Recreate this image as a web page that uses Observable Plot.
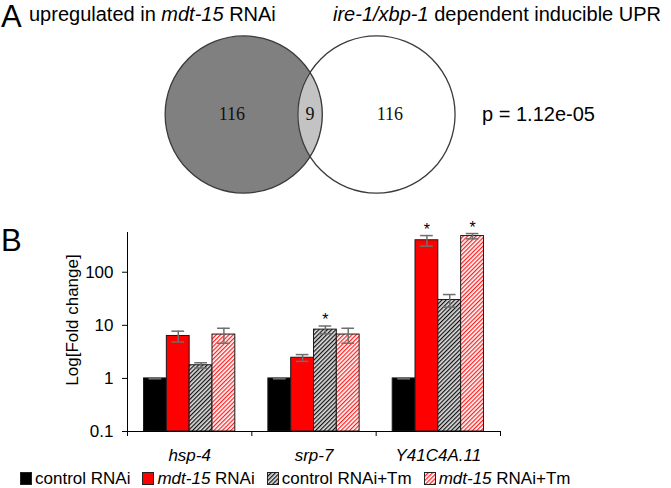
<!DOCTYPE html>
<html><head><meta charset="utf-8">
<script src="https://cdn.jsdelivr.net/npm/d3@7"></script>
<script src="https://cdn.jsdelivr.net/npm/@observablehq/plot@0.6"></script>
<style>
html,body{margin:0;padding:0;background:#fff;}
#fig{position:relative;width:671px;height:488px;font-family:"Liberation Sans",Arial,Helvetica,sans-serif;color:#000;overflow:hidden;}
.abs{position:absolute;white-space:nowrap;line-height:1;}
#legend{position:absolute;left:20px;top:470px;height:17px;display:flex;align-items:center;font-size:17px;line-height:17px;white-space:nowrap;}
#legend .item{display:flex;align-items:center;margin-right:12px;}
#legend svg{margin-right:3px;}
</style></head><body>
<svg width="0" height="0" style="position:absolute">
  <defs>
    <pattern id="hatchGray" patternUnits="userSpaceOnUse" width="3" height="3" patternTransform="rotate(45)">
      <rect width="3" height="3" fill="#dcdcdc"></rect>
      <line x1="0.6" y1="0" x2="0.6" y2="3" stroke="#111" stroke-width="1.2"></line>
    </pattern>
    <pattern id="hatchPink" patternUnits="userSpaceOnUse" width="3" height="3" patternTransform="rotate(45)">
      <rect width="3" height="3" fill="#ffffff"></rect>
      <line x1="0.6" y1="0" x2="0.6" y2="3" stroke="#ff1e1e" stroke-width="1.3"></line>
    </pattern>
  </defs>
</svg>
<div id="fig">
  <div id="venn" style="position:absolute;left:0;top:0;"></div>
  <div id="bars" style="position:absolute;left:0;top:215px;"></div>
  <div class="abs" style="left:1px;top:1px;font-size:31px;">A</div>
  <div class="abs" style="left:29px;top:4px;font-size:20px;">upregulated in <i>mdt-15</i> RNAi</div>
  <div class="abs" style="left:333px;top:4px;font-size:20px;"><i>ire-1/xbp-1</i> dependent inducible UPR</div>
  <div class="abs" style="left:1px;top:225px;font-size:31px;">B</div>
  <div id="legend"></div>
</div>
<script>
// ---------- data ----------
const vennCounts = [116, 9, 116];          // only A, A∩B, only B
const pValueText = "p = 1.12e-05";

const genes = ["hsp-4", "srp-7", "Y41C4A.11"];
const conditions = ["control RNAi", "mdt-15 RNAi", "control RNAi+Tm", "mdt-15 RNAi+Tm"];
const controlRNAi   = [1, 1, 1];
const mdt15RNAi     = [6.3, 2.45, 400];
const controlRNAiTm = [1.77, 8.3, 30];
const mdt15RNAiTm   = [6.7, 6.7, 480];
const errControlRNAi   = [0.02, 0.02, 0.02];
const errMdt15RNAi     = [1.45, 0.36, 90];
const errControlRNAiTm = [0.2, 1.4, 8];
const errMdt15RNAiTm   = [2.1, 2.1, 55];
const sigControlRNAi   = [false, false, false];
const sigMdt15RNAi     = [false, false, true];
const sigControlRNAiTm = [false, true, false];
const sigMdt15RNAiTm   = [false, false, true];
const yTicks = [0.1, 1, 10, 100];
const yLabel = "Log[Fold change]";

// ---------- styles ----------
const fills = ["#000000", "#ff0000", "url(#hatchGray)", "url(#hatchPink)"];
const FONT = '"Liberation Sans", Arial, Helvetica, sans-serif';

// ---------- Venn (area proportional) ----------
const setA = vennCounts[0] + vennCounts[1];
const setB = vennCounts[2] + vennCounts[1];
const frac = vennCounts[1] / Math.min(setA, setB);
function lensFrac(t) { return (2 * Math.acos(t / 2) - (t / 2) * Math.sqrt(4 - t * t)) / Math.PI; }
let lo = 0, hi = 2;
for (let k = 0; k < 60; k++) { const m = (lo + hi) / 2; if (lensFrac(m) > frac) lo = m; else hi = m; }
const tDist = (lo + hi) / 2;
const RMAX = 78.6, MIDX = 309.6, CY = 114;
const rPx = RMAX * Math.sqrt(setA / Math.max(setA, setB));
const cxA = MIDX - tDist * rPx / 2, cxB = MIDX + tDist * rPx / 2;
const circles = [{set: "A", total: setA, x: cxA, y: CY}, {set: "B", total: setB, x: cxB, y: CY}];
// lens (intersection) outline derived from the two circles
const halfChord = Math.sqrt(rPx * rPx - ((cxB - cxA) / 2) ** 2);
const lens = d3.range(0, 201).map(i => {
  const y = CY - halfChord + (2 * halfChord) * i / 200;
  const w = Math.sqrt(Math.max(0, rPx * rPx - (y - CY) ** 2));
  return {y, x1: cxB - w, x2: cxA + w};
});
const regionLabels = [
  {text: String(vennCounts[0]), x: cxA - 0.15 * rPx, y: CY},
  {text: String(vennCounts[1]), x: MIDX, y: CY},
  {text: String(vennCounts[2]), x: cxB + 0.17 * rPx, y: CY}
];

const venn = Plot.plot({
  width: 671, height: 205, margin: 0,
  style: {background: "transparent", fontFamily: FONT},
  x: {domain: [0, 671], range: [0, 671], axis: null},
  y: {domain: [0, 205], range: [0, 205], axis: null},
  r: {type: "sqrt", domain: [0, Math.max(setA, setB)], range: [0, RMAX]},
  marks: [
    Plot.dot([circles[0]], {x: "x", y: "y", r: "total", fill: "#808080", stroke: "none"}),
    Plot.areaX(lens, {y: "y", x1: "x1", x2: "x2", fill: "#c3c3c3"}),
    Plot.dot(circles, {x: "x", y: "y", r: "total", fill: "none", stroke: "#3a3a3a", strokeWidth: 1.3}),
    Plot.text(regionLabels, {x: "x", y: "y", text: "text", fontFamily: '"Liberation Serif", "Times New Roman", serif', fontSize: 18, fill: "#111"}),
    Plot.text([pValueText], {x: cxB + rPx + 27, y: CY, text: d => d, textAnchor: "start", fontSize: 20, fill: "#000"})
  ]
});
document.getElementById("venn").appendChild(venn);

// ---------- bar chart ----------
const values = [controlRNAi, mdt15RNAi, controlRNAiTm, mdt15RNAiTm];
const errs = [errControlRNAi, errMdt15RNAi, errControlRNAiTm, errMdt15RNAiTm];
const sigs = [sigControlRNAi, sigMdt15RNAi, sigControlRNAiTm, sigMdt15RNAiTm];
const PAD = 0.133, BW = (1 - 2 * PAD) / conditions.length, CAP = 0.051;
const rows = [];
genes.forEach((g, gi) => conditions.forEach((c, ci) => {
  const x1 = gi + PAD + ci * BW;
  rows.push({gene: g, cond: c, x1, x2: x1 + BW, xc: x1 + BW / 2,
    value: values[ci][gi], err: errs[ci][gi], sig: sigs[ci][gi]});
}));
const caps = rows.flatMap(d => [{xc: d.xc, y: d.value + d.err}, {xc: d.xc, y: d.value - d.err}]);

const bars = Plot.plot({
  width: 671, height: 250,
  marginLeft: 127, marginRight: 171, marginTop: 17, marginBottom: 34,
  style: {background: "transparent", fontFamily: FONT, fontSize: "17px", color: "#000"},
  x: {domain: [0, genes.length]},
  y: {type: "log", domain: [0.1, 560]},
  color: {domain: conditions, range: fills},
  marks: [
    Plot.rectY(rows, {x1: "x1", x2: "x2", y1: yTicks[0], y2: "value", fill: "cond", stroke: "#1a1a1a", strokeWidth: 1}),
    Plot.ruleX(rows, {x: "xc", y1: d => d.value - d.err, y2: d => d.value + d.err, stroke: "#6e6e6e", strokeWidth: 1.5}),
    Plot.ruleY(caps, {x1: d => d.xc - CAP, x2: d => d.xc + CAP, y: "y", stroke: "#6e6e6e", strokeWidth: 1.5}),
    Plot.text(rows.filter(d => d.sig), {x: "xc", y: d => d.value + d.err, text: () => "*", dy: -6, fontSize: 16, fill: "#000"}),
    Plot.ruleX([0], {stroke: "#000", strokeWidth: 1}),
    Plot.ruleY([yTicks[0]], {stroke: "#000", strokeWidth: 1}),
    Plot.axisY({ticks: yTicks, tickFormat: d => String(d), tickSize: 5, tickPadding: 9, label: null, fontSize: 17}),
    Plot.axisX({ticks: d3.range(genes.length + 1), tickFormat: () => "", tickSize: 5, label: null}),
    Plot.axisX({ticks: genes.map((g, i) => i + 0.5), tickFormat: d => genes[Math.floor(d)], tickSize: 0, tickPadding: 17, label: null, fontStyle: "italic", fontSize: 17}),
    Plot.text([yLabel], {frameAnchor: "left", textAnchor: "middle", rotate: -90, dx: -55, dy: -12, fontSize: 17, fill: "#000"})
  ]
});
document.getElementById("bars").appendChild(bars);

// ---------- legend ----------
const legend = document.getElementById("legend");
const legendHTML = ["control RNAi", "<i>mdt-15</i> RNAi", "control RNAi+Tm", "<i>mdt-15</i> RNAi+Tm"];
conditions.forEach((c, i) => {
  const item = document.createElement("div");
  item.className = "item";
  item.innerHTML = `<svg width="12" height="13"><rect x="0.5" y="0.5" width="11" height="12" fill="${fills[i]}" stroke="#222" stroke-width="1"></rect></svg><span>${legendHTML[i]}</span>`;
  legend.appendChild(item);
});
</script>
</body></html>
